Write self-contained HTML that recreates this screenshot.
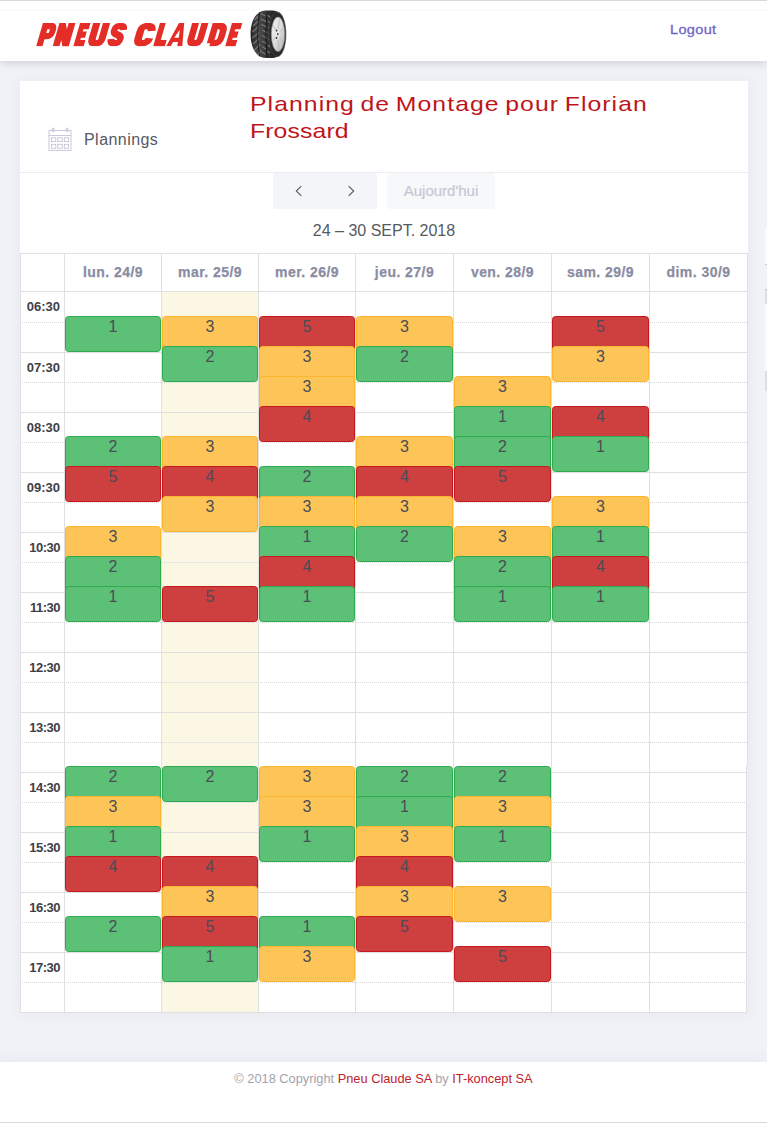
<!DOCTYPE html><html><head><meta charset="utf-8"><title>Planning</title><style>
*{box-sizing:border-box}
html,body{margin:0;padding:0;overflow:hidden}
body{width:767px;height:1123px;overflow:hidden;position:relative;background:#f1f2f7;font-family:"Liberation Sans",sans-serif;color:#575962}
.abs{position:absolute}
#hdr{left:0;top:0;width:767px;height:61px;background:#fff;box-shadow:0 1px 9px 0 rgba(69,65,78,.24)}
#topline{left:0;top:0;width:767px;height:1px;background:#d9d9dc}
#logo{left:34px;top:16px;font:italic bold 33px/36px "Liberation Sans",sans-serif;color:#e62e29;white-space:nowrap;transform-origin:0 100%;transform:scaleX(.76) skewX(-8deg);-webkit-text-stroke:2.2px #e62e29;letter-spacing:.8px}
#logout{left:670px;top:21px;font:13.6px/18px "Liberation Sans",sans-serif;color:#6f66c4;white-space:nowrap;letter-spacing:.3px;transform-origin:0 0;transform:scaleX(1.07);-webkit-text-stroke:.3px #6f66c4}
#card{left:20px;top:81px;width:728px;height:932px;background:#fff;box-shadow:0 1px 12px 1px rgba(69,65,78,.05)}
#sep{left:20px;top:172px;width:728px;height:1px;background:#ebedf2}
#plannings{left:84px;top:130px;font:16px/20px "Liberation Sans",sans-serif;color:#575962;white-space:nowrap;letter-spacing:.45px}
#title{left:250px;top:89.6px;width:420px;font:21px/27px "Liberation Sans",sans-serif;color:#bf1419}
#title span{display:block;white-space:nowrap;transform-origin:0 0;transform:scaleX(1.18);letter-spacing:.9px;word-spacing:-2px}
.btn{background:#f4f5f8;border-radius:3px}
#today{color:#c6c7d6;-webkit-text-stroke:.2px #c6c7d6;font:15px/36px "Liberation Sans",sans-serif;text-align:center;background:#f7f8fa;border-radius:3px}
#range{left:20px;top:221px;width:728px;text-align:center;font:16px/20px "Liberation Sans",sans-serif;color:#575962;white-space:nowrap}
.hl{height:1px;background:#e0e0e0;left:20px;width:728px}
.dl{height:0;border-top:1px dotted #d8d8d8;left:20px;width:727px}
.vl{width:1px;background:#e0e0e0;top:253px;height:760px}
.dh{top:253px;height:38px;font:bold 14px/38px "Liberation Sans",sans-serif;color:#8a8ca2;text-align:center;white-space:nowrap;letter-spacing:.45px;-webkit-text-stroke:.25px #8a8ca2}
.tm{left:20px;width:40px;text-align:right;font:bold 13px/16px "Liberation Sans",sans-serif;color:#3f4047;white-space:nowrap}
.ev{height:36px;border-radius:3.5px;border:1px solid;text-align:center;font:16px/18px "Liberation Sans",sans-serif;color:#4b4c56;padding-top:1px}
#today-bg{left:162px;top:292px;width:96px;height:720px;background:#fcf7e3}
#foot{left:0;top:1062px;width:767px;height:61px;background:#fff;box-shadow:0 -2px 14px 0 rgba(69,65,78,.06)}
#botline{left:0;top:1122px;width:767px;height:1px;background:#d9d9dc}
#copy{left:0;top:1071px;width:767px;text-align:center;font:12.8px/16px "Liberation Sans",sans-serif;color:#a3a3ab;white-space:nowrap}
#copy b{font-weight:normal;color:#c0222b}
</style></head><body>
<div id="hdr" class="abs"></div><div id="topline" class="abs"></div><div class="abs" style="left:0;top:8px;width:767px;height:2px;top:9px;background:#fbfbfb"></div>
<svg class="abs" style="left:30px;top:18px" width="220" height="32" viewBox="30 -4 220 32"><defs><clipPath id="lc"><rect x="0" y="0" width="300" height="24"/></clipPath></defs><g transform="translate(0,1.1) scale(1,.96)"><g clip-path="url(#lc)"><g transform="matrix(1 0 -0.28 1 6.7 0)" fill="none" stroke="#e52d27" stroke-width="6.6" stroke-linejoin="miter" stroke-miterlimit="10"><path transform="translate(36.5,0) scale(0.947,1)" d="M3,24 V3 H8.5 Q12.3,3 12.3,8.2 Q12.3,13.6 8.5,13.6 H4.5"/><path transform="translate(53.0,0) scale(1.03,1)" d="M3,24 V1.5 L12,22.5 V0"/><path transform="translate(73.6,0) scale(0.78,1)" d="M13,3 H3 V21 H13 M3,12 H11.5"/><path transform="translate(86.8,0) scale(1.09,1)" d="M3,0 V16.5 Q3,21 7.5,21 Q12,21 12,16.5 V0"/><path transform="translate(106.6,0) scale(0.973,1)" d="M12.6,7.2 Q12.3,3 7.6,3 Q3,3 3,7.2 Q3,10.6 7.5,12 Q12,13.4 12,17.2 Q12,21 7.4,21 Q2.8,21 2.4,16.6"/><path transform="translate(132.6,0) scale(1.147,1)" d="M12.7,8.2 Q12.4,3 7.6,3 Q3,3 3,8.5 V15.5 Q3,21 7.6,21 Q12.4,21 12.7,15.8"/><path transform="translate(153.5,0) scale(0.88,1)" d="M3,0 V21 H13"/><path transform="translate(166.3,0)" fill="#e52d27" stroke="none" fill-rule="evenodd" d="M0,24 L6,0 L11.2,0 L16,24 L10.9,24 L10.4,19.6 L5.5,19.6 L4.5,24 Z M5.5,15.2 L10,15.2 L8.7,6.8 Z"/><path transform="translate(185.8,0) scale(1.04,1)" d="M3,0 V16.5 Q3,21 7.5,21 Q12,21 12,16.5 V0"/><path transform="translate(206.3,0) scale(1.02,1)" d="M3,21 V3 H7 Q12.2,3 12.2,9 V15 Q12.2,21 7,21 H3"/><path transform="translate(225.5,0) scale(0.773,1)" d="M13,3 H3 V21 H13 M3,12 H11.5"/></g></g></svg>
<svg class="abs" style="left:246px;top:6px" width="44" height="56" viewBox="246 6 44 56">
<defs>
<linearGradient id="tg" x1="0" y1="0" x2="1" y2="0"><stop offset="0" stop-color="#222"/><stop offset=".3" stop-color="#4d4d4d"/><stop offset=".62" stop-color="#333"/><stop offset="1" stop-color="#1c1c1c"/></linearGradient>
<linearGradient id="rg" x1="0" y1="0" x2="1" y2="1"><stop offset="0" stop-color="#f4f4f4"/><stop offset=".5" stop-color="#dcdcdc"/><stop offset="1" stop-color="#b4b4b4"/></linearGradient>
</defs>
<path d="M266 10.6 C272 10.4 276 10.8 277.3 11.8 L277.3 56.8 C276 57.8 272 58.2 266 58 C256.5 58 250.6 48 250.6 34.3 C250.6 20 256.5 10.6 266 10.6Z" fill="url(#tg)"/>
<g stroke="#8a8a8a" stroke-width="1.3" opacity=".75" fill="none">
<path d="M254.5 20 L257.8 16.5 M253 26 L258.3 21 M252.3 32 L258.7 26.5 M252.3 38 L259 32.5 M253 44 L259.2 38.5 M254.5 50 L260 44.5 M257 55 L261.5 50.5"/>
<path d="M260.5 13.5 L265.5 16 M261 19 L266.3 21.7 M261.5 24.5 L266.8 27.2 M262 30 L267.2 32.7 M262 35.5 L267.2 38.2 M262 41 L266.8 43.7 M262 46.5 L266.3 49.2 M262 52 L265.3 54.2"/>
<path d="M267.5 15 L270 17.5 M268 21 L270.6 23.5 M268.3 27 L270.9 29.5 M268.4 33 L271 35.5 M268.3 39 L270.9 41.5 M268 45 L270.5 47.5 M267.5 51 L269.8 53"/>
</g>
<g stroke="#151515" stroke-width="1" fill="none" opacity=".9"><path d="M259.6 12.5 Q255.6 34 259.6 56.5 M267 12 Q264.6 34 267 57"/></g>
<ellipse cx="277.3" cy="34.3" rx="8.6" ry="22.3" fill="#2a2a2a" stroke="#4b4b4b" stroke-width=".7"/>
<ellipse cx="278" cy="34.3" rx="6.7" ry="17.2" fill="url(#rg)" stroke="#8d8d8d" stroke-width=".6"/>
<g stroke="#b9b9b9" stroke-width=".9" opacity=".8"><path d="M277.6 34.2 L279.5 18.5 M277.6 34.2 L284 27 M277.6 34.2 L283.6 43 M277.6 34.2 L279 50.5 M277.6 34.2 L272.6 41 M277.6 34.2 L273 25"/></g><ellipse cx="277.4" cy="34.2" rx="2.3" ry="5.6" fill="#e9e9e9"/><ellipse cx="276.6" cy="30.6" rx=".8" ry="1.1" fill="#333"/><ellipse cx="277.8" cy="34.2" rx=".8" ry="1.1" fill="#333"/><ellipse cx="276.6" cy="37.9" rx=".8" ry="1.1" fill="#333"/>
</svg>
<div id="logout" class="abs">Logout</div>
<div id="card" class="abs"></div><div id="sep" class="abs"></div>
<svg class="abs" style="left:46px;top:126px" width="28" height="27" viewBox="46 126 28 27" fill="none" stroke="#c2c0d4" stroke-width=".85">
<rect x="49" y="130.5" width="22" height="20"/><path d="M49 135.5H71"/>
<rect x="52.2" y="128" width="2" height="3.8" rx="1" fill="#e4e3ee"/><rect x="66.1" y="128" width="2" height="3.8" rx="1" fill="#e4e3ee"/>
<rect x="51.5" y="137.8" width="4.3" height="3.8"/><rect x="57.8" y="137.8" width="4.4" height="3.8"/><rect x="64.3" y="137.8" width="4.3" height="3.8"/>
<rect x="51.5" y="144.3" width="4.3" height="4"/><rect x="57.8" y="144.3" width="4.4" height="4"/><rect x="64.3" y="144.3" width="4.3" height="4"/>
</svg>
<div id="plannings" class="abs">Plannings</div>
<div id="title" class="abs"><span>Planning de Montage pour Florian</span><span style="letter-spacing:.1px">Frossard</span></div>
<div class="abs btn" style="left:273px;top:173px;width:104px;height:36px"></div>
<svg class="abs" style="left:292px;top:183px" width="14" height="16" viewBox="0 0 14 16"><path d="M9.3 3.2 L4.3 8 L9.3 12.8" fill="none" stroke="#575962" stroke-width="1.1"/></svg>
<svg class="abs" style="left:344px;top:183px" width="14" height="16" viewBox="0 0 14 16"><path d="M4.7 3.2 L9.7 8 L4.7 12.8" fill="none" stroke="#575962" stroke-width="1.1"/></svg>
<div id="today" class="abs" style="left:387px;top:173px;width:108px;height:36px">Aujourd'hui</div>
<div id="range" class="abs">24 – 30 SEPT. 2018</div>
<div id="today-bg" class="abs"></div>
<div class="abs hl" style="top:253px"></div>
<div class="abs hl" style="top:291px"></div>
<div class="abs dl" style="top:322px"></div>
<div class="abs hl" style="top:352px"></div>
<div class="abs dl" style="top:382px"></div>
<div class="abs hl" style="top:412px"></div>
<div class="abs dl" style="top:442px"></div>
<div class="abs hl" style="top:472px"></div>
<div class="abs dl" style="top:502px"></div>
<div class="abs hl" style="top:532px"></div>
<div class="abs dl" style="top:562px"></div>
<div class="abs hl" style="top:592px"></div>
<div class="abs dl" style="top:622px"></div>
<div class="abs hl" style="top:652px"></div>
<div class="abs dl" style="top:682px"></div>
<div class="abs hl" style="top:712px"></div>
<div class="abs dl" style="top:742px"></div>
<div class="abs hl" style="top:772px"></div>
<div class="abs dl" style="top:802px"></div>
<div class="abs hl" style="top:832px"></div>
<div class="abs dl" style="top:862px"></div>
<div class="abs hl" style="top:892px"></div>
<div class="abs dl" style="top:922px"></div>
<div class="abs hl" style="top:952px"></div>
<div class="abs dl" style="top:982px"></div>
<div class="abs hl" style="top:1012px"></div>
<div class="abs vl" style="left:20px"></div>
<div class="abs vl" style="left:64px"></div>
<div class="abs vl" style="left:161px"></div>
<div class="abs vl" style="left:258px"></div>
<div class="abs vl" style="left:355px"></div>
<div class="abs vl" style="left:453px"></div>
<div class="abs vl" style="left:551px"></div>
<div class="abs vl" style="left:649px"></div>
<div class="abs vl" style="left:747px;height:513px"></div>
<div class="abs vl" style="left:746px;top:766px;height:247px"></div>
<div class="abs" style="left:747px;top:766px;width:1px;height:247px;background:#eeeff4"></div>
<div class="abs dh" style="left:65px;width:96px">lun. 24/9</div>
<div class="abs dh" style="left:162px;width:96px">mar. 25/9</div>
<div class="abs dh" style="left:259px;width:96px">mer. 26/9</div>
<div class="abs dh" style="left:356px;width:97px">jeu. 27/9</div>
<div class="abs dh" style="left:454px;width:97px">ven. 28/9</div>
<div class="abs dh" style="left:552px;width:97px">sam. 29/9</div>
<div class="abs dh" style="left:650px;width:97px">dim. 30/9</div>
<div class="abs tm" style="top:299px">06:30</div>
<div class="abs tm" style="top:360px">07:30</div>
<div class="abs tm" style="top:420px">08:30</div>
<div class="abs tm" style="top:480px">09:30</div>
<div class="abs tm" style="top:540px;letter-spacing:-.5px">10:30</div>
<div class="abs tm" style="top:600px;letter-spacing:-.5px">11:30</div>
<div class="abs tm" style="top:660px;letter-spacing:-.5px">12:30</div>
<div class="abs tm" style="top:720px;letter-spacing:-.5px">13:30</div>
<div class="abs tm" style="top:780px;letter-spacing:-.5px">14:30</div>
<div class="abs tm" style="top:840px;letter-spacing:-.5px">15:30</div>
<div class="abs tm" style="top:900px;letter-spacing:-.5px">16:30</div>
<div class="abs tm" style="top:960px;letter-spacing:-.5px">17:30</div>
<div class="abs ev" style="left:65px;top:316px;width:96px;background:#5cc076;border-color:#2eaa4e">1</div>
<div class="abs ev" style="left:65px;top:436px;width:96px;background:#5cc076;border-color:#2eaa4e">2</div>
<div class="abs ev" style="left:65px;top:466px;width:96px;background:#ce3f40;border-color:#c6181c">5</div>
<div class="abs ev" style="left:65px;top:526px;width:96px;background:#fdc457;border-color:#fcb62e">3</div>
<div class="abs ev" style="left:65px;top:556px;width:96px;background:#5cc076;border-color:#2eaa4e">2</div>
<div class="abs ev" style="left:65px;top:586px;width:96px;background:#5cc076;border-color:#2eaa4e">1</div>
<div class="abs ev" style="left:65px;top:766px;width:96px;background:#5cc076;border-color:#2eaa4e">2</div>
<div class="abs ev" style="left:65px;top:796px;width:96px;background:#fdc457;border-color:#fcb62e">3</div>
<div class="abs ev" style="left:65px;top:826px;width:96px;background:#5cc076;border-color:#2eaa4e">1</div>
<div class="abs ev" style="left:65px;top:856px;width:96px;background:#ce3f40;border-color:#c6181c">4</div>
<div class="abs ev" style="left:65px;top:916px;width:96px;background:#5cc076;border-color:#2eaa4e">2</div>
<div class="abs ev" style="left:162px;top:316px;width:96px;background:#fdc457;border-color:#fcb62e">3</div>
<div class="abs ev" style="left:162px;top:346px;width:96px;background:#5cc076;border-color:#2eaa4e">2</div>
<div class="abs ev" style="left:162px;top:436px;width:96px;background:#fdc457;border-color:#fcb62e">3</div>
<div class="abs ev" style="left:162px;top:466px;width:96px;background:#ce3f40;border-color:#c6181c">4</div>
<div class="abs ev" style="left:162px;top:496px;width:96px;background:#fdc457;border-color:#fcb62e">3</div>
<div class="abs ev" style="left:162px;top:586px;width:96px;background:#ce3f40;border-color:#c6181c">5</div>
<div class="abs ev" style="left:162px;top:766px;width:96px;background:#5cc076;border-color:#2eaa4e">2</div>
<div class="abs ev" style="left:162px;top:856px;width:96px;background:#ce3f40;border-color:#c6181c">4</div>
<div class="abs ev" style="left:162px;top:886px;width:96px;background:#fdc457;border-color:#fcb62e">3</div>
<div class="abs ev" style="left:162px;top:916px;width:96px;background:#ce3f40;border-color:#c6181c">5</div>
<div class="abs ev" style="left:162px;top:946px;width:96px;background:#5cc076;border-color:#2eaa4e">1</div>
<div class="abs ev" style="left:259px;top:316px;width:96px;background:#ce3f40;border-color:#c6181c">5</div>
<div class="abs ev" style="left:259px;top:346px;width:96px;background:#fdc457;border-color:#fcb62e">3</div>
<div class="abs ev" style="left:259px;top:376px;width:96px;background:#fdc457;border-color:#fcb62e">3</div>
<div class="abs ev" style="left:259px;top:406px;width:96px;background:#ce3f40;border-color:#c6181c">4</div>
<div class="abs ev" style="left:259px;top:466px;width:96px;background:#5cc076;border-color:#2eaa4e">2</div>
<div class="abs ev" style="left:259px;top:496px;width:96px;background:#fdc457;border-color:#fcb62e">3</div>
<div class="abs ev" style="left:259px;top:526px;width:96px;background:#5cc076;border-color:#2eaa4e">1</div>
<div class="abs ev" style="left:259px;top:556px;width:96px;background:#ce3f40;border-color:#c6181c">4</div>
<div class="abs ev" style="left:259px;top:586px;width:96px;background:#5cc076;border-color:#2eaa4e">1</div>
<div class="abs ev" style="left:259px;top:766px;width:96px;background:#fdc457;border-color:#fcb62e">3</div>
<div class="abs ev" style="left:259px;top:796px;width:96px;background:#fdc457;border-color:#fcb62e">3</div>
<div class="abs ev" style="left:259px;top:826px;width:96px;background:#5cc076;border-color:#2eaa4e">1</div>
<div class="abs ev" style="left:259px;top:916px;width:96px;background:#5cc076;border-color:#2eaa4e">1</div>
<div class="abs ev" style="left:259px;top:946px;width:96px;background:#fdc457;border-color:#fcb62e">3</div>
<div class="abs ev" style="left:356px;top:316px;width:97px;background:#fdc457;border-color:#fcb62e">3</div>
<div class="abs ev" style="left:356px;top:346px;width:97px;background:#5cc076;border-color:#2eaa4e">2</div>
<div class="abs ev" style="left:356px;top:436px;width:97px;background:#fdc457;border-color:#fcb62e">3</div>
<div class="abs ev" style="left:356px;top:466px;width:97px;background:#ce3f40;border-color:#c6181c">4</div>
<div class="abs ev" style="left:356px;top:496px;width:97px;background:#fdc457;border-color:#fcb62e">3</div>
<div class="abs ev" style="left:356px;top:526px;width:97px;background:#5cc076;border-color:#2eaa4e">2</div>
<div class="abs ev" style="left:356px;top:766px;width:97px;background:#5cc076;border-color:#2eaa4e">2</div>
<div class="abs ev" style="left:356px;top:796px;width:97px;background:#5cc076;border-color:#2eaa4e">1</div>
<div class="abs ev" style="left:356px;top:826px;width:97px;background:#fdc457;border-color:#fcb62e">3</div>
<div class="abs ev" style="left:356px;top:856px;width:97px;background:#ce3f40;border-color:#c6181c">4</div>
<div class="abs ev" style="left:356px;top:886px;width:97px;background:#fdc457;border-color:#fcb62e">3</div>
<div class="abs ev" style="left:356px;top:916px;width:97px;background:#ce3f40;border-color:#c6181c">5</div>
<div class="abs ev" style="left:454px;top:376px;width:97px;background:#fdc457;border-color:#fcb62e">3</div>
<div class="abs ev" style="left:454px;top:406px;width:97px;background:#5cc076;border-color:#2eaa4e">1</div>
<div class="abs ev" style="left:454px;top:436px;width:97px;background:#5cc076;border-color:#2eaa4e">2</div>
<div class="abs ev" style="left:454px;top:466px;width:97px;background:#ce3f40;border-color:#c6181c">5</div>
<div class="abs ev" style="left:454px;top:526px;width:97px;background:#fdc457;border-color:#fcb62e">3</div>
<div class="abs ev" style="left:454px;top:556px;width:97px;background:#5cc076;border-color:#2eaa4e">2</div>
<div class="abs ev" style="left:454px;top:586px;width:97px;background:#5cc076;border-color:#2eaa4e">1</div>
<div class="abs ev" style="left:454px;top:766px;width:97px;background:#5cc076;border-color:#2eaa4e">2</div>
<div class="abs ev" style="left:454px;top:796px;width:97px;background:#fdc457;border-color:#fcb62e">3</div>
<div class="abs ev" style="left:454px;top:826px;width:97px;background:#5cc076;border-color:#2eaa4e">1</div>
<div class="abs ev" style="left:454px;top:886px;width:97px;background:#fdc457;border-color:#fcb62e">3</div>
<div class="abs ev" style="left:454px;top:946px;width:97px;background:#ce3f40;border-color:#c6181c">5</div>
<div class="abs ev" style="left:552px;top:316px;width:97px;background:#ce3f40;border-color:#c6181c">5</div>
<div class="abs ev" style="left:552px;top:346px;width:97px;background:#fdc457;border-color:#fcb62e">3</div>
<div class="abs ev" style="left:552px;top:406px;width:97px;background:#ce3f40;border-color:#c6181c">4</div>
<div class="abs ev" style="left:552px;top:436px;width:97px;background:#5cc076;border-color:#2eaa4e">1</div>
<div class="abs ev" style="left:552px;top:496px;width:97px;background:#fdc457;border-color:#fcb62e">3</div>
<div class="abs ev" style="left:552px;top:526px;width:97px;background:#5cc076;border-color:#2eaa4e">1</div>
<div class="abs ev" style="left:552px;top:556px;width:97px;background:#ce3f40;border-color:#c6181c">4</div>
<div class="abs ev" style="left:552px;top:586px;width:97px;background:#5cc076;border-color:#2eaa4e">1</div>
<div class="abs" style="left:765px;top:228px;width:2px;height:37px;background:#fbfbfd;border-bottom:1px solid #c9cad2"></div><div class="abs" style="left:765px;top:289px;width:2px;height:15px;background:#dddee5;border-top:1px solid #c9cad2"></div><div class="abs" style="left:765px;top:304px;width:2px;height:67px;background:#fbfbfd"></div><div class="abs" style="left:765px;top:371px;width:2px;height:20px;background:#dddee5"></div>
<div id="foot" class="abs"></div><div id="botline" class="abs"></div>
<div id="copy" class="abs">© 2018 Copyright <b>Pneu Claude SA</b> by <b>IT-koncept SA</b></div>
</body></html>
